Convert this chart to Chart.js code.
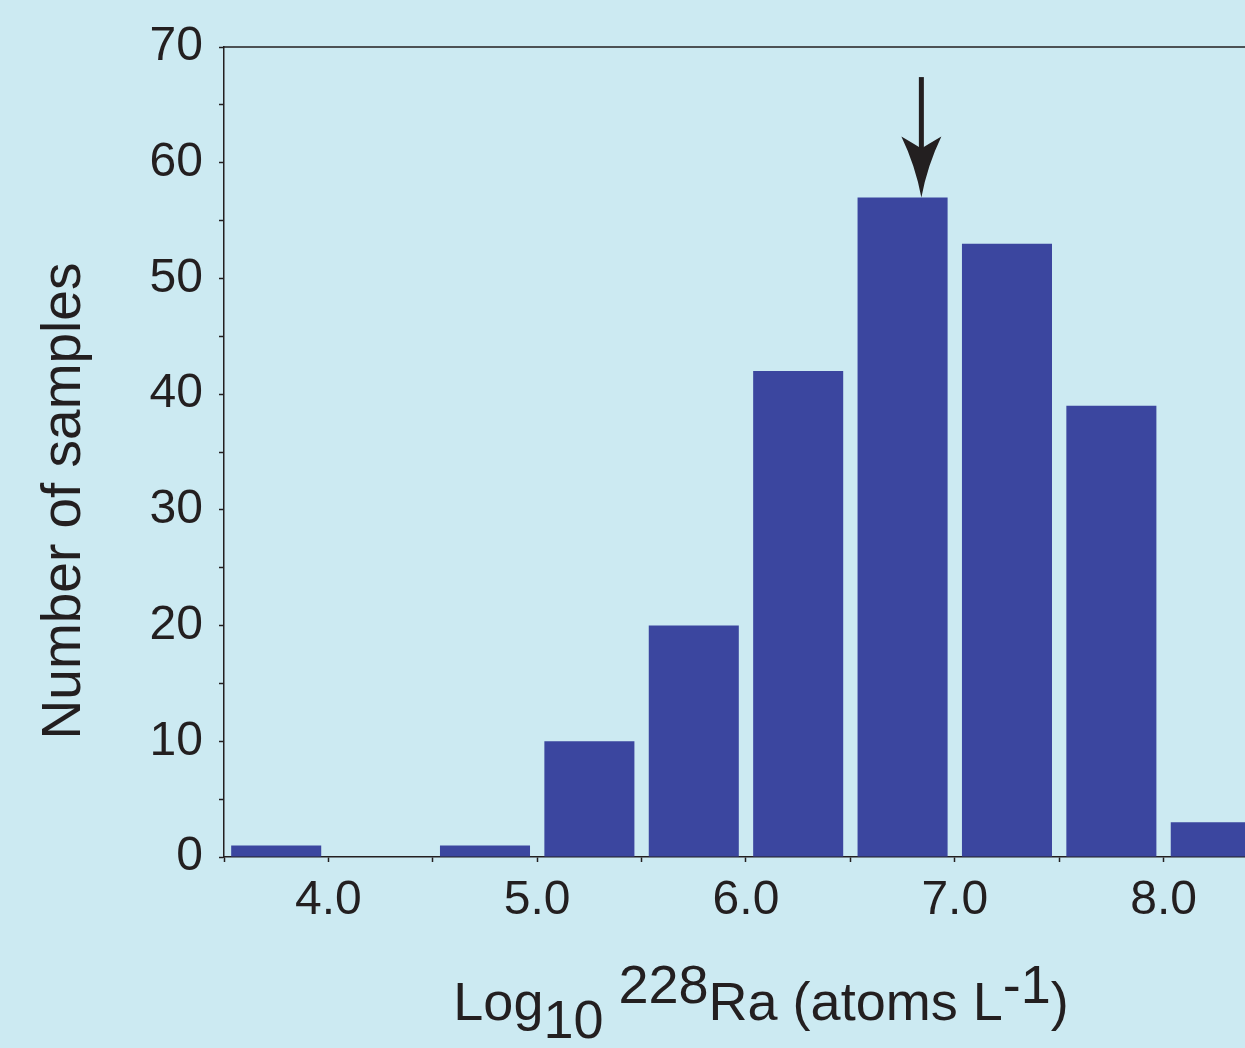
<!DOCTYPE html>
<html>
<head>
    <title>228Ra histogram</title>
    <style>
        body { margin: 0; background: #cceaf2; overflow: hidden; }
        #wrap { position: relative; width: 1245px; height: 1048px; }
    </style>
</head>
<body>
    <div id="wrap"><canvas id="myChart"></canvas></div>
</body>
<script src="https://cdn.jsdelivr.net/npm/chart.js"></script>
<script>
    // histogram bins (0.5 wide, centres) and counts
    const binCenters = [3.75, 4.25, 4.75, 5.25, 5.75, 6.25, 6.75, 7.25, 7.75, 8.25];
    const sampleCounts = [1, 0, 1, 10, 20, 42, 57, 53, 39, 3];
    // arrow marking the mode, in data units
    const arrowX = 6.84;
    const arrowFrom = 67.4;
    const arrowTo = 57;

    const ink = '#231f20';
    const fontFam = '"Liberation Sans", Arial, sans-serif';

    const decor = {
        id: 'decor',
        afterDraw(chart) {
            const {ctx, chartArea: a, scales: {x, y}} = chart;
            ctx.save();
            // top frame line
            ctx.strokeStyle = ink;
            ctx.lineWidth = 1.5;
            ctx.beginPath();
            ctx.moveTo(a.left, a.top);
            ctx.lineTo(a.right, a.top);
            ctx.stroke();

            // arrow
            const ax = x.getPixelForValue(arrowX);
            const y0 = y.getPixelForValue(arrowFrom);
            const y1 = y.getPixelForValue(arrowTo);
            ctx.lineWidth = 5;
            ctx.beginPath();
            ctx.moveTo(ax, y0);
            ctx.lineTo(ax, y1 - 40);
            ctx.stroke();
            ctx.fillStyle = ink;
            ctx.beginPath();
            ctx.moveTo(ax, y1);
            ctx.quadraticCurveTo(ax - 6, y1 - 32, ax - 20, y1 - 61);
            ctx.quadraticCurveTo(ax - 8, y1 - 54, ax, y1 - 49);
            ctx.quadraticCurveTo(ax + 8, y1 - 54, ax + 20, y1 - 61);
            ctx.quadraticCurveTo(ax + 6, y1 - 32, ax, y1);
            ctx.fill();

            // y title
            ctx.fillStyle = ink;
            ctx.font = '55px ' + fontFam;
            ctx.textAlign = 'center';
            ctx.textBaseline = 'alphabetic';
            ctx.save();
            ctx.translate(80, 501);
            ctx.rotate(-Math.PI / 2);
            ctx.fillText('Number of samples', 0, 0);
            ctx.restore();

            // x title with sub/superscripts
            const parts = [
                ['Log', 0], ['10', 18], [' ', 0], ['228', -17], ['Ra (atoms L', 0], ['-1', -17], [')', 0]
            ];
            ctx.font = '54px ' + fontFam;
            ctx.textAlign = 'left';
            let total = 0;
            parts.forEach(p => total += ctx.measureText(p[0]).width);
            let px = 761 - total / 2;
            const base = 1020;
            parts.forEach(p => {
                ctx.fillText(p[0], px, base + p[1]);
                px += ctx.measureText(p[0]).width;
            });
            ctx.restore();
        }
    };

    const data = {
        datasets: [{
            label: 'Number of samples',
            backgroundColor: '#3b469f',
            borderWidth: 0,
            barPercentage: 0.8625,
            categoryPercentage: 1,
            data: binCenters.map((c, i) => ({x: c, y: sampleCounts[i]})),
        }]
    };

    const config = {
        type: 'bar',
        data,
        options: {
            responsive: true,
            maintainAspectRatio: false,
            animation: false,
            layout: { padding: { top: 47, right: 0, bottom: 0, left: 0 } },
            plugins: { legend: { display: false }, tooltip: { enabled: false } },
            scales: {
                x: {
                    type: 'linear',
                    min: 3.5,
                    max: 8.39,
                    offset: false,
                    grid: { display: true, offset: false, drawOnChartArea: false, drawTicks: true, tickLength: 5, tickColor: ink, tickWidth: 1.5 },
                    border: { display: true, color: ink, width: 1.5 },
                    ticks: {
                        stepSize: 0.5,
                        includeBounds: false,
                        autoSkip: false,
                        maxRotation: 0,
                        padding: 10,
                        color: ink,
                        font: { size: 48, family: fontFam },
                        callback: v => (Math.abs(v - Math.round(v)) < 1e-6 ? v.toFixed(1) : '')
                    },
                    afterFit: s => { s.height = 191; }
                },
                y: {
                    min: 0,
                    max: 70,
                    grid: { display: true, drawOnChartArea: false, drawTicks: true, tickLength: 5, tickColor: ink, tickWidth: 1.5 },
                    border: { display: true, color: ink, width: 1.5 },
                    ticks: {
                        stepSize: 5,
                        autoSkip: false,
                        padding: 16,
                        color: ink,
                        font: { size: 48, family: fontFam },
                        callback: v => (v % 10 === 0 ? String(v) : '')
                    },
                    afterFit: s => { s.width = 224; }
                }
            }
        },
        plugins: [decor]
    };

    let myChart = new Chart(document.getElementById('myChart'), config);
</script>
</html>
